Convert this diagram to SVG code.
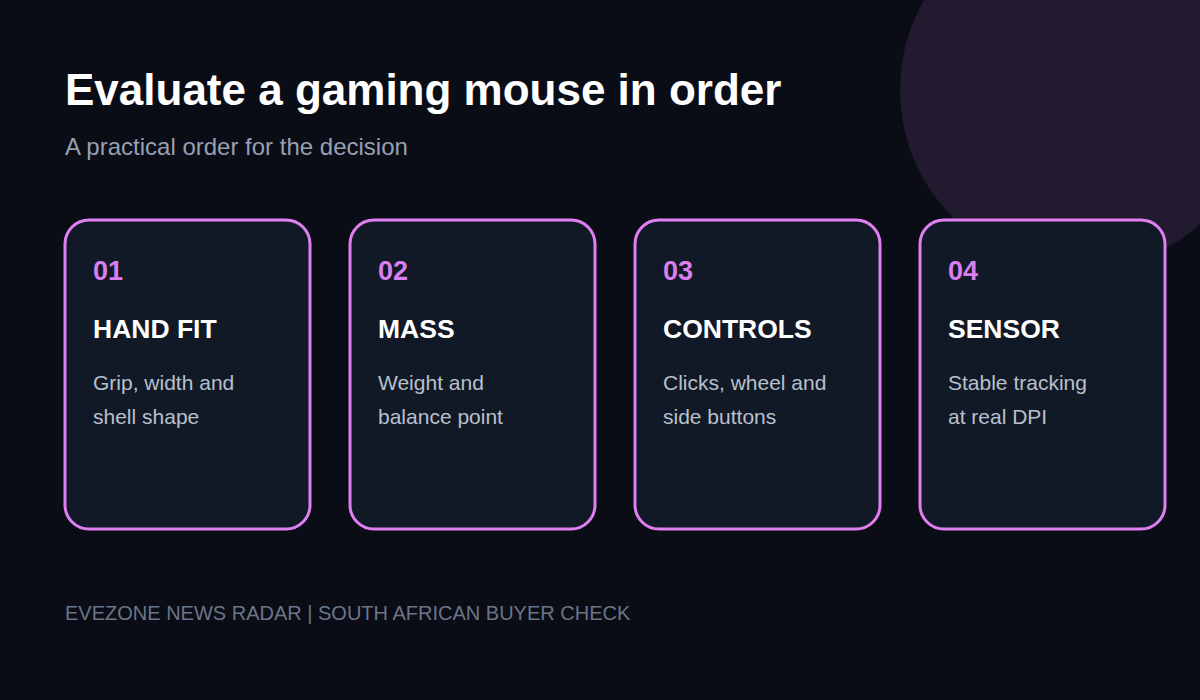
<svg xmlns="http://www.w3.org/2000/svg" width="1200" height="700" viewBox="0 0 1200 700">
<style>
.card{fill:#111926;stroke:#e07ff0;stroke-width:3}
.num{font:bold 27px "Liberation Sans",Arial,sans-serif;fill:#d97ff0}
.head{font:bold 26.5px "Liberation Sans",Arial,sans-serif;fill:#ffffff}
.body{font:21px "Liberation Sans",Arial,sans-serif;fill:#b8c0cc}
</style>
<rect width="1200" height="700" fill="#0a0d16"/>
<circle cx="1080" cy="90" r="180" fill="#221b2f"/>
<text x="65" y="105" style="font:bold 44px 'Liberation Sans',Arial,sans-serif;fill:#ffffff">Evaluate a gaming mouse in order</text>
<text x="65" y="155" style="font:24px 'Liberation Sans',Arial,sans-serif;fill:#97a0b2">A practical order for the decision</text>
<g id="card1"><rect class="card" x="65" y="220" width="245" height="309" rx="24"/><text class="num" x="93" y="280">01</text><text class="head" x="93" y="338">HAND FIT</text><text class="body" x="93" y="390">Grip, width and</text><text class="body" x="93" y="424">shell shape</text></g>
<g id="card2"><rect class="card" x="350" y="220" width="245" height="309" rx="24"/><text class="num" x="378" y="280">02</text><text class="head" x="378" y="338">MASS</text><text class="body" x="378" y="390">Weight and</text><text class="body" x="378" y="424">balance point</text></g>
<g id="card3"><rect class="card" x="635" y="220" width="245" height="309" rx="24"/><text class="num" x="663" y="280">03</text><text class="head" x="663" y="338">CONTROLS</text><text class="body" x="663" y="390">Clicks, wheel and</text><text class="body" x="663" y="424">side buttons</text></g>
<g id="card4"><rect class="card" x="920" y="220" width="245" height="309" rx="24"/><text class="num" x="948" y="280">04</text><text class="head" x="948" y="338">SENSOR</text><text class="body" x="948" y="390">Stable tracking</text><text class="body" x="948" y="424">at real DPI</text></g>
<g id="connectors"/>
<text x="65" y="620" style="font:20px 'Liberation Sans',Arial,sans-serif;fill:#6b7588">EVEZONE NEWS RADAR | SOUTH AFRICAN BUYER CHECK</text>
</svg>
